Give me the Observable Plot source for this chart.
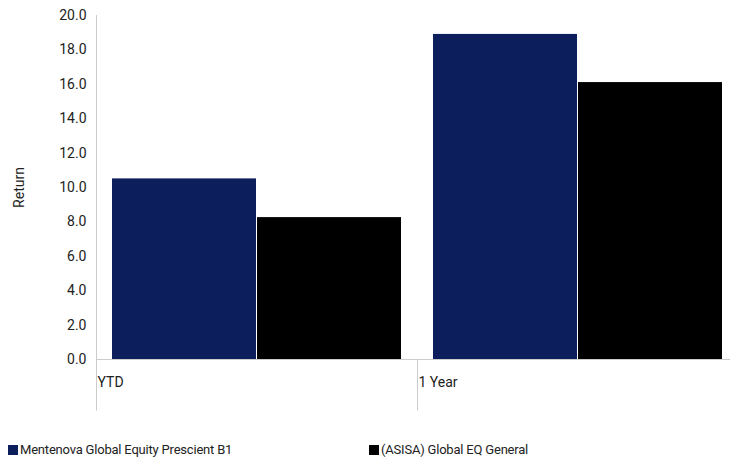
<!DOCTYPE html>
<html><head>
<script src="https://cdn.jsdelivr.net/npm/d3@7"></script>
<script src="https://cdn.jsdelivr.net/npm/@observablehq/plot@0.6"></script>
<style>
body{margin:0;background:#fff;font-family:"Liberation Sans Narrow","Roboto",sans-serif;overflow:hidden;width:730px}
#vis{width:730px;overflow:hidden}
#legend{display:flex;font-size:13px;color:#222;margin-top:22px;padding-left:8px;letter-spacing:-0.2px}
#legend div{display:flex;align-items:center;width:374px}
#legend span{display:inline-block;width:10px;height:10px;margin-right:2px}
</style>
</head><body>
<div id="vis"></div>
<div id="legend"></div>
<script>
const periods = ["YTD", "1 Year"]
const series = ["Mentenova Global Equity Prescient B1", "(ASISA) Global EQ General"]
const fundValues = [10.5, 18.9]
const sectorValues = [8.25, 16.1]
const colors = ["#0c1f5c", "#000000"]

const data = []
periods.forEach((p, i) => {
  data.push({period: p, series: series[0], value: fundValues[i]})
  data.push({period: p, series: series[1], value: sectorValues[i]})
})

const chart = Plot.plot({
  width: 738,
  height: 420,
  marginLeft: 96,
  marginRight: 0,
  marginTop: 15,
  marginBottom: 61,
  style: {fontSize: "14px", fontFamily: "Liberation Sans Narrow, Roboto, sans-serif", color: "#222", maxWidth: "none"},
  fx: {domain: periods, padding: 0, axis: null},
  x: {domain: series, paddingInner: 0.01, paddingOuter: 0.105, axis: null},
  y: {domain: [0, 20], ticks: d3.range(0, 21, 2), tickFormat: d => d.toFixed(1), label: "Return", labelAnchor: "center", labelArrow: "none"},
  color: {domain: series, range: colors},
  marks: [
    Plot.axisY({ticks: d3.range(0, 21, 2), tickFormat: d => d.toFixed(1), tickSize: 0, tickPadding: 10, label: "Return", labelAnchor: "center", labelArrow: "none", labelOffset: 82, fontSize: 14}),
    Plot.barY(data, {fx: "period", x: "series", y: "value", fill: "series"}),
    Plot.ruleY([0], {stroke: "#ccc"}),
    Plot.ruleX(periods, {fx: d => d, x: () => series[0], y1: 0, y2: -3, dx: -88, stroke: "#ccc"}),
    Plot.ruleX([periods[0]], {fx: d => d, x: () => series[0], y1: 0, y2: 20, dx: -88, stroke: "#ccc"}),
    Plot.text(periods, {fx: d => d, x: () => series[0], y: 0, text: d => d, dx: -87, dy: 23, textAnchor: "start", fontSize: 14})
  ]
})
document.getElementById("vis").append(chart)
document.getElementById("legend").innerHTML = series.map((s, i) =>
  `<div><span style="background:${colors[i]}"></span>${s}</div>`).join("")
</script>
</body></html>
